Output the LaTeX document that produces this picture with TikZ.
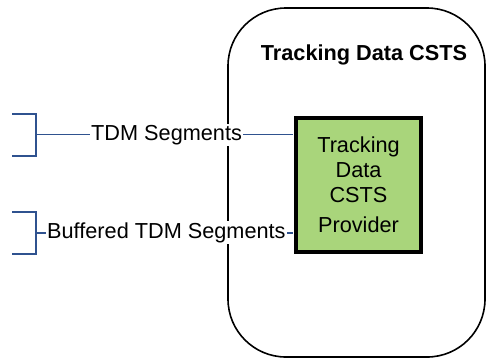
\documentclass[tikz,border=0pt]{standalone}
\usepackage{fontspec}
\setmainfont{Liberation Sans}
\usetikzlibrary{positioning}
\definecolor{linkblue}{RGB}{47,82,143}
\definecolor{provgreen}{RGB}{169,213,123}

\begin{document}
\begin{tikzpicture}[
    x=1pt, y=-1pt,
    font=\fontsize{21.7}{25}\selectfont,
    boundary/.style={rectangle, draw=black, line width=1.6pt, rounded corners=58pt, minimum width=257pt, minimum height=349pt},
    provider/.style={rectangle, draw=black, line width=3.5pt, fill=provgreen, minimum width=125pt, minimum height=134pt, align=center},
    flowlabel/.style={fill=white, inner sep=1pt},
    link/.style={draw=linkblue, line width=1.8pt}
]
\useasboundingbox (0,0) rectangle (486,360);

% service boundary
\node (csts) [boundary] at (356.5,182.5) {};
\node (title) [anchor=base, font=\fontsize{21.7}{25}\selectfont\bfseries] at (364,60) {Tracking Data CSTS};

% provider
\node (prov) [provider] at (358.5,185) {Tracking\\Data\\CSTS\\[5pt]Provider};

% brackets
\coordinate (tdmsrc) at (36,134.5);
\coordinate (bufsrc) at (36,233);
\draw[link] ([xshift=-24pt,yshift=-21.5pt]tdmsrc) -| ([yshift=20.5pt]tdmsrc) -- ++(-24,0);
\draw[link] ([xshift=-24pt,yshift=-21pt]bufsrc) -| ([yshift=21pt]bufsrc) -- ++(-24,0);

% connectors
\draw[link, shorten >=1.7pt] (tdmsrc) -- (tdmsrc -| prov.west);
\draw[link, shorten >=1.7pt] (bufsrc) -- (bufsrc -| prov.west);
\node (tdm) [flowlabel, anchor=base west] at (90,140) {TDM Segments};
\node (buf) [flowlabel, anchor=base west] at (46,238) {Buffered TDM Segments};

\end{tikzpicture}
\end{document}
